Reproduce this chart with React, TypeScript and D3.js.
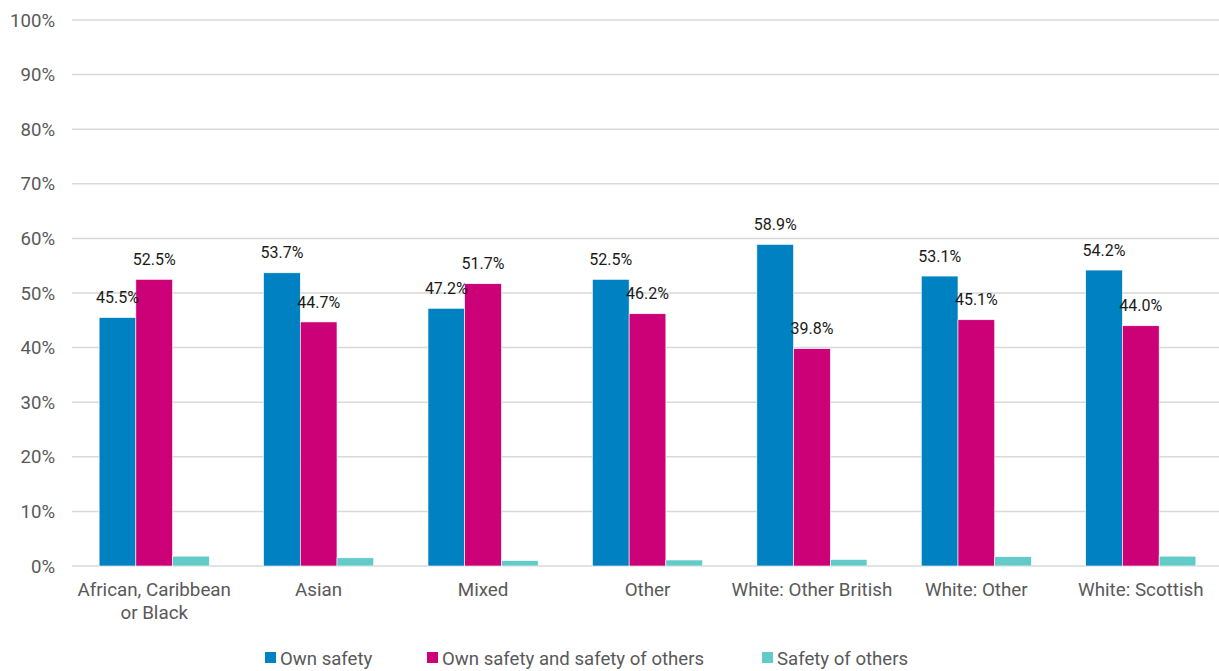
import * as d3 from "d3";

const CATEGORIES = [
  ["African, Caribbean", "or Black"],
  ["Asian"],
  ["Mixed"],
  ["Other"],
  ["White: Other British"],
  ["White: Other"],
  ["White: Scottish"],
];
const SERIES_NAMES = ["Own safety", "Own safety and safety of others", "Safety of others"];
const OWN_SAFETY = [45.5, 53.7, 47.2, 52.5, 58.9, 53.1, 54.2];
const OWN_AND_OTHERS = [52.5, 44.7, 51.7, 46.2, 39.8, 45.1, 44.0];
const SAFETY_OF_OTHERS = [1.8, 1.5, 1.0, 1.1, 1.2, 1.7, 1.8];
const Y_TICKS = [0, 10, 20, 30, 40, 50, 60, 70, 80, 90, 100];

const WIDTH = 1219;
const HEIGHT = 671;
const MARGIN = { top: 20, right: -4, bottom: 105, left: 72 };
const COLORS = ["#0081c2", "#cc0077", "#62cbc8"];
const TEXT_COLOR = "#595959";
const GRID_COLOR = "#d9d9d9";
const FONT = "Roboto, 'Open Sans', sans-serif";

export default function App() {
  const series = [OWN_SAFETY, OWN_AND_OTHERS, SAFETY_OF_OTHERS];
  const labelled = [true, true, false];
  const keys = CATEGORIES.map((_, i) => i);
  const x0 = d3.scaleBand<number>().domain(keys).range([MARGIN.left, WIDTH - MARGIN.right]).paddingInner(0.33).paddingOuter(0.165);
  const x1 = d3.scaleBand<number>().domain([0, 1, 2]).range([0, x0.bandwidth()]);
  const y = d3.scaleLinear().domain([0, 100]).range([HEIGHT - MARGIN.bottom, MARGIN.top]);
  const legendX = [265, 427, 762];

  return (
    <svg width={WIDTH} height={HEIGHT} style={{ position: "absolute", left: 0, top: 0, fontFamily: FONT }}>
      <rect width={WIDTH} height={HEIGHT} fill="#fff" />
      {Y_TICKS.map((t) => (
        <g key={t}>
          <line x1={MARGIN.left} x2={WIDTH} y1={y(t)} y2={y(t)} stroke={GRID_COLOR} strokeWidth={1.5} />
          <text x={55} y={y(t)} dy="0.35em" textAnchor="end" fontSize={18.6} fill={TEXT_COLOR}>
            {t}%
          </text>
        </g>
      ))}
      {series.map((values, s) =>
        values.map((v, i) => (
          <rect
            key={`${s}-${i}`}
            x={(x0(i) ?? 0) + (x1(s) ?? 0)}
            y={y(v)}
            width={x1.bandwidth()}
            height={y(0) - y(v)}
            fill={COLORS[s]}
            stroke="#fff"
            strokeWidth={0.6}
          />
        ))
      )}
      {series.map((values, s) =>
        labelled[s]
          ? values.map((v, i) => (
              <text
                key={`l${s}-${i}`}
                x={(x0(i) ?? 0) + (x1(s) ?? 0) + x1.bandwidth() / 2}
                y={y(v) - 20}
                dy="0.35em"
                textAnchor="middle"
                fontSize={16}
                fill="#1a1a1a"
              >
                {v.toFixed(1)}%
              </text>
            ))
          : null
      )}
      {CATEGORIES.map((lines, i) => (
        <text key={i} x={(x0(i) ?? 0) + x0.bandwidth() / 2} y={596} textAnchor="middle" fontSize={18.8} fill={TEXT_COLOR}>
          {lines.map((line, j) => (
            <tspan key={j} x={(x0(i) ?? 0) + x0.bandwidth() / 2} dy={j === 0 ? 0 : 23}>
              {line}
            </tspan>
          ))}
        </text>
      ))}
      {SERIES_NAMES.map((name, s) => (
        <g key={name} transform={`translate(${legendX[s]} 652)`}>
          <rect width={11} height={11} fill={COLORS[s]} />
          <text x={15} y={6} dy="0.35em" fontSize={18.6} fill={TEXT_COLOR}>
            {name}
          </text>
        </g>
      ))}
    </svg>
  );
}
